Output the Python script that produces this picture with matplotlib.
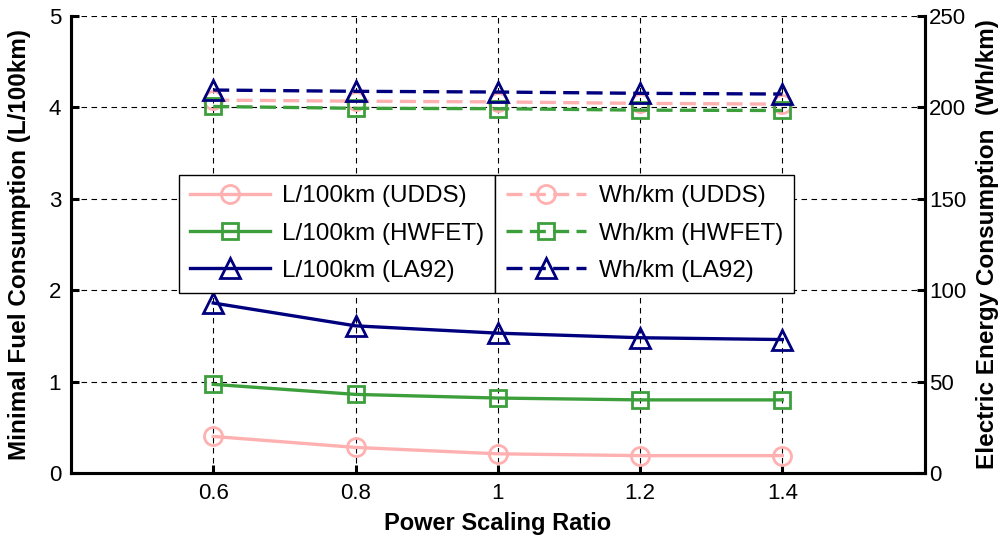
import matplotlib
matplotlib.use("Agg")
import matplotlib.pyplot as plt

plt.rcParams['font.family'] = ['Liberation Sans', 'DejaVu Sans']

# Power scaling ratios evaluated
ratios = [0.6, 0.8, 1.0, 1.2, 1.4]

# Minimal fuel consumption (L/100km) per drive cycle
fuel_udds = [0.40, 0.28, 0.21, 0.19, 0.19]
fuel_hwfet = [0.97, 0.86, 0.82, 0.80, 0.80]
fuel_la92 = [1.86, 1.61, 1.53, 1.48, 1.46]

# Electric energy consumption (Wh/km) per drive cycle
elec_udds = [204.0, 203.4, 203.0, 202.2, 201.8]
elec_hwfet = [200.5, 199.5, 199.3, 198.5, 198.3]
elec_la92 = [209.5, 208.8, 208.4, 207.7, 207.3]

x_ticks = [0.6, 0.8, 1.0, 1.2, 1.4]
x_tick_labels = ["0.6", "0.8", "1", "1.2", "1.4"]
left_ticks = [0, 1, 2, 3, 4, 5]
right_ticks = [0, 50, 100, 150, 200, 250]

pink = "#FFB0B0"
green = "#3C9F3C"
navy = "#00007F"

fig = plt.figure(figsize=(10.05, 5.42), dpi=100)
ax = fig.add_axes([0.0706, 0.1273, 0.8494, 0.8432])
ax2 = ax.twinx()

ms = 13
mew = 2.0
lw = 2.4
dash = (0, (4.8, 2.2))

l1, = ax.plot(ratios, fuel_udds, color=pink, lw=lw, marker='o', ms=ms,
              mfc='none', mec=pink, mew=mew, label="L/100km (UDDS)")
l2, = ax.plot(ratios, fuel_hwfet, color=green, lw=lw, marker='s', ms=ms - 1,
              mfc='none', mec=green, mew=mew, label="L/100km (HWFET)")
l3, = ax.plot(ratios, fuel_la92, color=navy, lw=lw, marker='^', ms=ms + 2,
              mfc='none', mec=navy, mew=mew, label="L/100km (LA92)")

r1, = ax2.plot(ratios, elec_udds, color=pink, lw=lw, ls=dash, marker='o', ms=ms,
               mfc='none', mec=pink, mew=mew, label="Wh/km (UDDS)")
r2, = ax2.plot(ratios, elec_hwfet, color=green, lw=lw, ls=dash, marker='s', ms=ms - 1,
               mfc='none', mec=green, mew=mew, label="Wh/km (HWFET)")
r3, = ax2.plot(ratios, elec_la92, color=navy, lw=lw, ls=dash, marker='^', ms=ms + 2,
               mfc='none', mec=navy, mew=mew, label="Wh/km (LA92)")

for a in (ax, ax2):
    a.set_xlim(0.4, 1.6)
    a.spines['top'].set_visible(False)
    for s in ('left', 'right', 'bottom'):
        a.spines[s].set_linewidth(2.2)
        a.spines[s].set_color('black')

ax.set_ylim(0, 5)
ax2.set_ylim(0, 250)
ax.set_xticks(x_ticks)
ax.set_xticklabels(x_tick_labels)
ax.set_yticks(left_ticks)
ax2.set_yticks(right_ticks)

ax.tick_params(axis='both', direction='in', length=6, width=2.2, labelsize=16, pad=7)
ax2.tick_params(axis='y', direction='in', length=6, width=2.2, labelsize=16, pad=3)

ax.grid(True, color='black', lw=0.8, ls=(0, (5, 4)))
ax.set_axisbelow(True)

ax.set_xlabel("Power Scaling Ratio", fontsize=17, fontweight='bold', labelpad=6)
ax.set_ylabel("Minimal Fuel Consumption (L/100km)", fontsize=17.5, fontweight='bold')
ax.yaxis.set_label_coords(-0.047, 0.5)
ax2.set_ylabel("Electric Energy Consumption  (Wh/km)", fontsize=17.5, fontweight='bold',
               labelpad=7)

legend_kw = dict(loc='upper left', bbox_transform=fig.transFigure, fontsize=17.5,
                 frameon=True, fancybox=False, framealpha=1, edgecolor='black',
                 handlelength=3.3, handletextpad=0.5, labelspacing=0.62,
                 borderpad=0.45, borderaxespad=0)
legend_top = 0.678
leg_left = ax2.legend(handles=[l1, l2, l3], bbox_to_anchor=(0.178, legend_top), **legend_kw)
leg_left.get_frame().set_linewidth(1.0)
ax2.add_artist(leg_left)

# Place the second legend flush against the right edge of the first one
fig.canvas.draw()
left_box = leg_left.get_window_extent().transformed(fig.transFigure.inverted())
leg_right = ax2.legend(handles=[r1, r2, r3], bbox_to_anchor=(left_box.x1, legend_top), **legend_kw)
leg_right.get_frame().set_linewidth(1.0)

fig.savefig("out.png", dpi=100)
